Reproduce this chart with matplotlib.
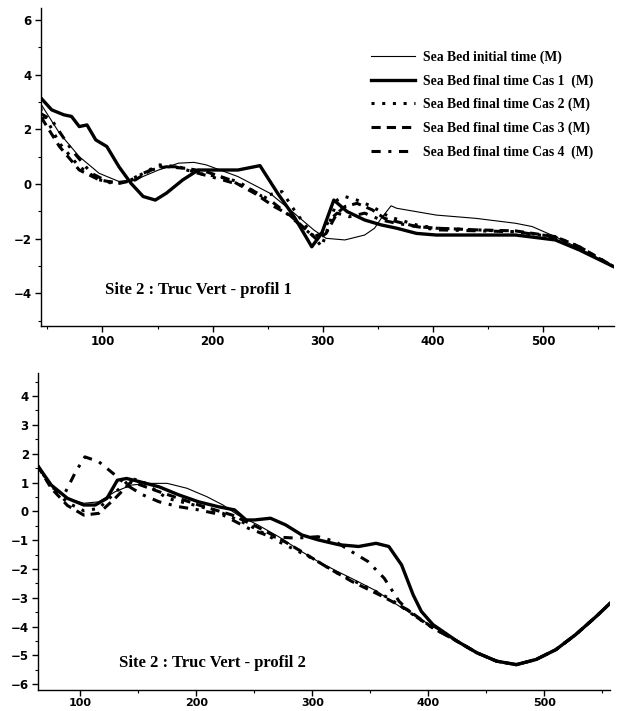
import matplotlib
matplotlib.use('Agg')
import matplotlib.pyplot as plt
from matplotlib.ticker import MultipleLocator

# ── profil 1 (top panel) ──
p1_init_x = [43, 61, 79, 97, 115, 126, 151, 169, 183, 194, 223, 252, 274, 292, 303, 320, 338, 347, 353, 362,
             367, 403, 439, 475, 490, 511, 533, 564]
p1_init_y = [3.0, 1.86, 1.0, 0.39, 0.09, 0.09, 0.51, 0.76, 0.79, 0.70, 0.27, -0.34, -1.07, -1.69, -1.99, -2.05,
             -1.87, -1.62, -1.26, -0.80, -0.89, -1.14, -1.26, -1.44, -1.56, -1.93, -2.36, -3.03]

p1_cas1_x = [43, 54, 65, 72, 79, 86, 94, 104, 115, 126, 137, 148, 158, 173, 187, 202, 223, 243, 259, 274, 290,
             299, 310, 322, 338, 353, 367, 385, 403, 439, 475, 511, 533, 564]
p1_cas1_y = [3.2, 2.71, 2.53, 2.47, 2.1, 2.16, 1.61, 1.37, 0.63, 0.02, -0.46, -0.59, -0.34, 0.15, 0.51, 0.51,
             0.51, 0.67, -0.34, -1.2, -2.3, -1.81, -0.59, -1.01, -1.32, -1.5, -1.62, -1.81, -1.87, -1.87, -1.87,
             -2.05, -2.42, -3.03]

p1_cas2_x = [43, 61, 79, 97, 115, 126, 140, 151, 169, 187, 205, 223, 245, 263, 274, 285, 299, 306, 313, 320,
             331, 345, 360, 385, 403, 439, 475, 511, 533, 564]
p1_cas2_y = [2.83, 1.49, 0.63, 0.15, 0.02, 0.15, 0.45, 0.70, 0.63, 0.39, 0.27, 0.09, -0.46, -0.28, -0.95, -1.56,
             -2.3, -1.44, -0.59, -0.46, -0.59, -0.83, -1.2, -1.5, -1.62, -1.68, -1.75, -1.93, -2.3, -3.03]

p1_cas3_x = [43, 46, 61, 79, 97, 115, 130, 144, 158, 176, 194, 216, 238, 256, 270, 285, 295, 303, 313, 320, 331,
             345, 356, 367, 385, 403, 439, 475, 511, 533, 564]
p1_cas3_y = [3.0, 2.34, 1.37, 0.51, 0.15, 0.02, 0.15, 0.51, 0.63, 0.57, 0.45, 0.15, -0.34, -0.83, -1.14, -1.68,
             -2.05, -1.81, -1.07, -0.83, -0.71, -0.95, -1.26, -1.38, -1.56, -1.62, -1.68, -1.72, -1.93, -2.3, -3.03]

p1_cas4_x = [43, 54, 72, 90, 108, 122, 137, 151, 166, 187, 209, 230, 252, 267, 281, 292, 299, 306, 313, 324, 338,
             353, 367, 403, 475, 511, 533, 564]
p1_cas4_y = [2.6, 2.34, 1.25, 0.39, 0.02, 0.09, 0.39, 0.63, 0.63, 0.39, 0.15, -0.1, -0.59, -1.07, -1.56, -1.93,
             -1.81, -1.32, -1.07, -1.2, -1.07, -1.32, -1.44, -1.68, -1.75, -1.95, -2.32, -3.03]

# ── profil 2 (bottom panel) ──
p2_init_x = [63, 75, 89, 103, 116, 130, 144, 158, 175, 192, 209, 223, 236, 253, 271, 291, 305, 322, 339, 356,
             373, 387, 401, 425, 442, 459, 476, 493, 510, 527, 545, 557]
p2_init_y = [1.6, 0.91, 0.45, 0.28, 0.33, 0.68, 0.91, 0.97, 0.97, 0.8, 0.51, 0.22, -0.13, -0.47, -0.88, -1.4,
             -1.74, -2.09, -2.43, -2.78, -3.24, -3.59, -3.93, -4.51, -4.91, -5.2, -5.32, -5.14, -4.8, -4.28,
             -3.64, -3.18]

p2_cas1_x = [63, 75, 89, 103, 113, 123, 132, 140, 151, 168, 185, 202, 219, 233, 243, 250, 264, 277, 291, 305,
             323, 340, 355, 366, 377, 387, 394, 404, 425, 442, 459, 476, 493, 510, 527, 545, 557]
p2_cas1_y = [1.6, 0.91, 0.45, 0.22, 0.22, 0.45, 1.08, 1.14, 1.03, 0.85, 0.57, 0.33, 0.16, 0.05, -0.3, -0.3,
             -0.24, -0.47, -0.82, -0.99, -1.16, -1.22, -1.11, -1.22, -1.86, -2.9, -3.47, -3.93, -4.51, -4.91,
             -5.2, -5.32, -5.14, -4.8, -4.28, -3.64, -3.18]

p2_cas2_x = [63, 75, 89, 103, 116, 134, 144, 154, 175, 204, 223, 245, 271, 300, 322, 346, 366, 387, 404, 425,
             442, 459, 476, 493, 510, 527, 545, 557]
p2_cas2_y = [1.6, 0.85, 0.3, 0.02, 0.1, 0.8, 1.14, 1.03, 0.45, 0.16, -0.07, -0.47, -1.05, -1.63, -2.15, -2.61,
             -3.01, -3.59, -4.05, -4.51, -4.91, -5.2, -5.32, -5.14, -4.8, -4.28, -3.64, -3.18]

p2_cas3_x = [63, 75, 89, 103, 116, 130, 144, 168, 202, 231, 252, 271, 291, 314, 334, 358, 382, 402, 425, 442,
             459, 476, 493, 510, 527, 545, 557]
p2_cas3_y = [1.6, 0.8, 0.2, -0.13, -0.07, 0.45, 1.03, 0.68, 0.22, -0.13, -0.53, -0.93, -1.4, -1.97, -2.43,
             -2.9, -3.41, -3.99, -4.51, -4.91, -5.2, -5.32, -5.14, -4.8, -4.28, -3.64, -3.18]

p2_cas4_x = [63, 75, 86, 96, 104, 116, 130, 140, 154, 168, 185, 202, 223, 245, 264, 286, 305, 320, 334, 348,
             362, 375, 387, 404, 425, 442, 459, 476, 493, 510, 527, 545, 557]
p2_cas4_y = [1.6, 0.85, 0.57, 1.37, 1.89, 1.72, 1.26, 0.91, 0.57, 0.33, 0.16, 0.05, -0.13, -0.59, -0.88, -0.93,
             -0.88, -1.05, -1.4, -1.74, -2.32, -3.13, -3.59, -4.05, -4.51, -4.91, -5.2, -5.32, -5.14, -4.8,
             -4.28, -3.64, -3.18]

labels = ['Sea Bed initial time (M)', 'Sea Bed final time Cas 1  (M)', 'Sea Bed final time Cas 2 (M)',
          'Sea Bed final time Cas 3 (M)', 'Sea Bed final time Cas 4  (M)']

styles = [
    dict(color='black', lw=0.8, ls='-'),
    dict(color='black', lw=2.4, ls='-'),
    dict(color='black', lw=2.2, ls=(0, (1, 2.5))),
    dict(color='black', lw=2.2, ls=(0, (3, 2))),
    dict(color='black', lw=2.2, ls=(0, (3, 2.5, 1, 2.5))),
]

serif_bold = dict(family='Liberation Serif', weight='bold')

fig = plt.figure(figsize=(6.2, 7.11), dpi=100)
ax1 = fig.add_axes([40.7 / 620, 1 - 326 / 711, 573 / 620, 318 / 711])
ax2 = fig.add_axes([37.8 / 620, 1 - 690 / 711, 572 / 620, 317 / 711])

series1 = [(p1_init_x, p1_init_y), (p1_cas1_x, p1_cas1_y), (p1_cas2_x, p1_cas2_y),
           (p1_cas3_x, p1_cas3_y), (p1_cas4_x, p1_cas4_y)]
series2 = [(p2_init_x, p2_init_y), (p2_cas1_x, p2_cas1_y), (p2_cas2_x, p2_cas2_y),
           (p2_cas3_x, p2_cas3_y), (p2_cas4_x, p2_cas4_y)]

for (x, y), st, lab in zip(series1, styles, labels):
    ax1.plot(x, y, label=lab, **st)
for (x, y), st in zip(series2, styles):
    ax2.plot(x, y, **st)

ax1.set_xlim(44, 564)
ax1.set_ylim(-5.2, 6.44)
ax1.yaxis.set_major_locator(MultipleLocator(2))
ax1.yaxis.set_minor_locator(MultipleLocator(1))

ax2.set_xlim(63.4, 556.5)
ax2.set_ylim(-6.2, 4.8)
ax2.yaxis.set_major_locator(MultipleLocator(1))
ax2.yaxis.set_minor_locator(MultipleLocator(0.5))

for ax in (ax1, ax2):
    ax.xaxis.set_major_locator(MultipleLocator(100))
    ax.xaxis.set_minor_locator(MultipleLocator(50))
    for s in ('top', 'right'):
        ax.spines[s].set_visible(False)
    for s in ('left', 'bottom'):
        ax.spines[s].set_linewidth(1.0)
    ax.tick_params(which='major', length=4, width=1, pad=2.5, labelsize=8.5)
    ax.tick_params(which='minor', length=2.5, width=0.8)
    for t in ax.get_xticklabels() + ax.get_yticklabels():
        t.set_fontweight('bold')
ax2.tick_params(axis='x', which='major', pad=1.5, labelsize=8)

leg = ax1.legend(loc='upper left', bbox_to_anchor=(0.555, 0.905), frameon=False,
                 handlelength=3.2, handletextpad=0.6, labelspacing=0.75,
                 prop=dict(family='Liberation Serif', weight='bold', size=9.8))

ax1.text(0.112, 0.113, 'Site 2 : Truc Vert - profil 1', transform=ax1.transAxes,
         va='center', ha='left', fontsize=12, **serif_bold)
ax2.text(0.142, 0.085, 'Site 2 : Truc Vert - profil 2', transform=ax2.transAxes,
         va='center', ha='left', fontsize=12, **serif_bold)

fig.savefig('out.png', dpi=100)
